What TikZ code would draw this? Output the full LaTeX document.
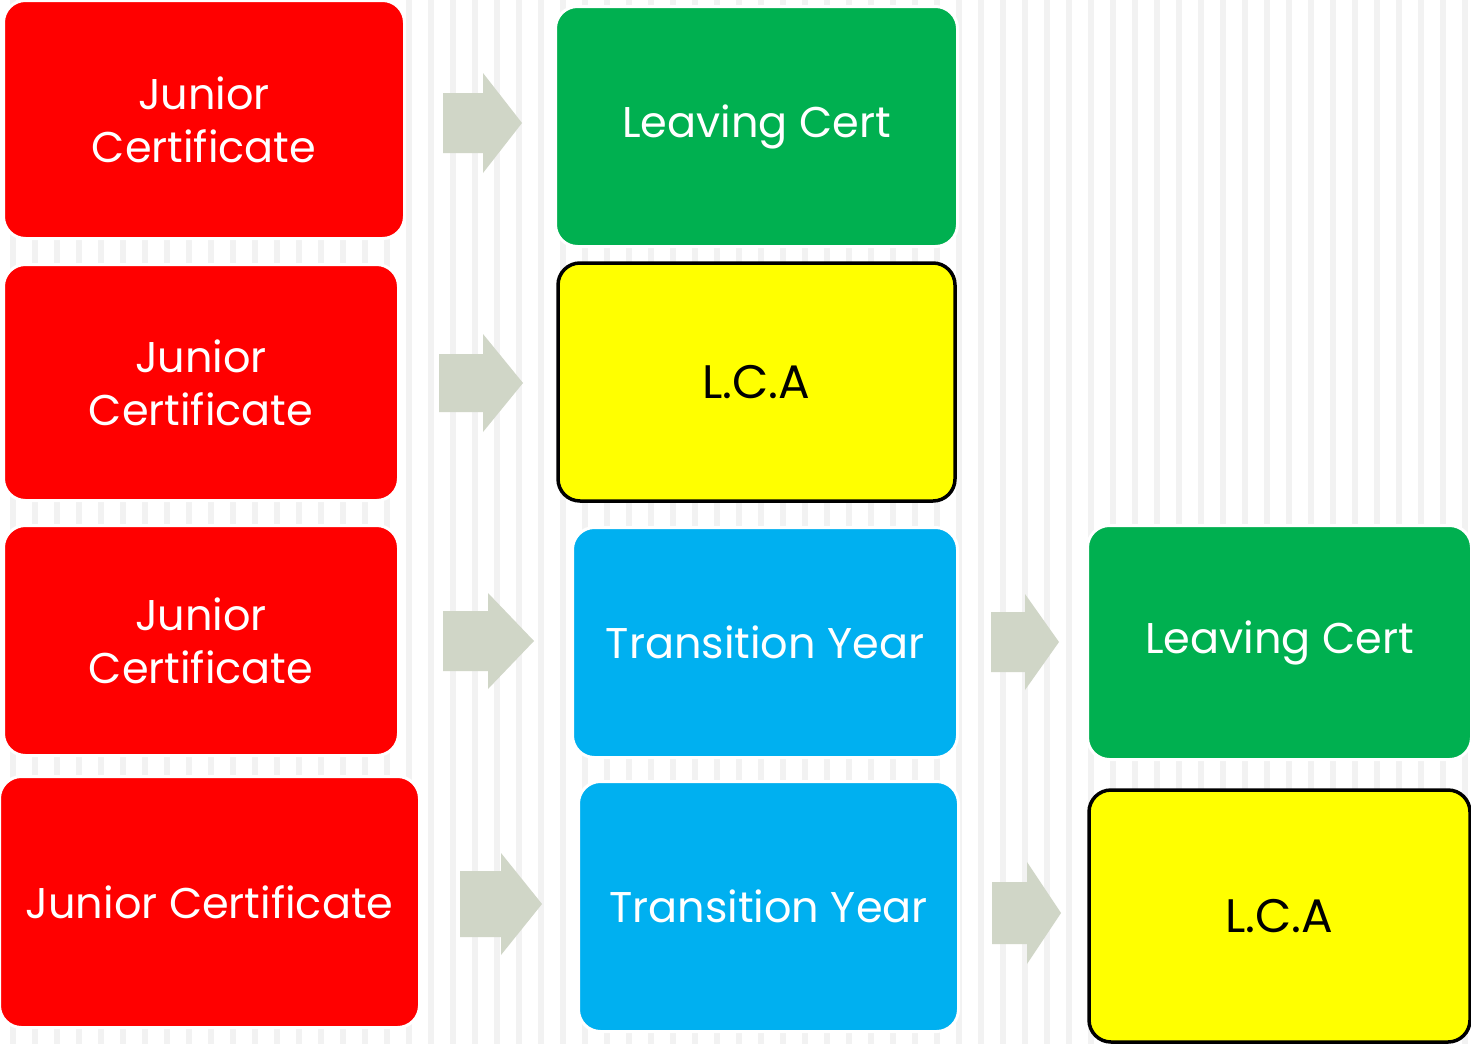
\documentclass[tikz,border=0pt]{standalone}
\usepackage{fontspec}
\setmainfont{Poppins}
\definecolor{stripecol}{RGB}{242,242,242}
\definecolor{arrowcol}{RGB}{208,214,199}
\definecolor{redbox}{RGB}{255,0,0}
\definecolor{greenbox}{RGB}{0,176,80}
\definecolor{bluebox}{RGB}{0,176,240}
\definecolor{yellowbox}{RGB}{255,255,0}
\newcommand{\blockarrow}[6]{\fill[arrowfill] ({#1},{#4-#5}) -- ({#2},{#4-#5}) -- ({#2},{#4-#6}) -- ({#3},{#4}) -- ({#2},{#4+#6}) -- ({#2},{#4+#5}) -- ({#1},{#4+#5}) -- cycle;}
\tikzset{
  box/.style={rounded corners=22pt, draw=white, line width=3pt, align=center, inner sep=0pt,
    font=\fontsize{43}{53}\selectfont, text=white},
  redb/.style={box, fill=redbox},
  greenb/.style={box, fill=greenbox},
  blueb/.style={box, fill=bluebox},
  yellowb/.style={box, fill=yellowbox, draw=black, line width=3.5pt, text=black, font=\fontsize{47}{53}\selectfont},
  arrowfill/.style={fill=arrowcol},
  stripe/.style={fill=stripecol},
}
\begin{document}
\begin{tikzpicture}[x=1pt,y=-1pt]
\useasboundingbox (0,0) rectangle (1471,1044);
\fill[white] (0,0) rectangle (1471,1044);
\foreach \i in {0,...,66} \fill[stripe] ({10+22*\i},0) rectangle ++(6,1044);
% row 1
\node[redb, minimum width=401pt, minimum height=238pt] (jc1) at (204,119.5) {Junior\\Certificate};
\node[greenb, minimum width=402pt, minimum height=240pt] (lc1) at (756.5,126.5) {Leaving Cert};
% row 2
\node[redb, minimum width=395pt, minimum height=236pt] (jc2) at (201,382.5) {Junior\\Certificate};
\node[yellowb, minimum width=397pt, minimum height=238pt] (lca1) at (756.5,382) {L.C.A};
% row 3
\node[redb, minimum width=395pt, minimum height=230pt] (jc3) at (201,640.5) {Junior\\Certificate};
\node[blueb, minimum width=385pt, minimum height=230pt] (ty1) at (765,642.5) {Transition Year};
\node[greenb, minimum width=384pt, minimum height=234pt] (lc2) at (1279.5,642.5) {Leaving Cert};
% row 4
\node[redb, minimum width=420pt, minimum height=251pt] (jc4) at (209.5,902) {Junior Certificate};
\node[blueb, minimum width=380pt, minimum height=250pt] (ty2) at (768.5,906.5) {Transition Year};
\node[yellowb, minimum width=381pt, minimum height=252pt] (lca2) at (1279.5,916) {L.C.A};
% arrows
\blockarrow{443}{483}{522}{123}{30}{50}
\blockarrow{439}{483}{523}{383}{29}{49}
\blockarrow{443}{488}{534}{641}{30}{48}
\blockarrow{991}{1025}{1059}{642}{30}{48}
\blockarrow{460}{501}{542}{904}{33}{51}
\blockarrow{992}{1027}{1061}{913}{31}{51}
\end{tikzpicture}
\end{document}
